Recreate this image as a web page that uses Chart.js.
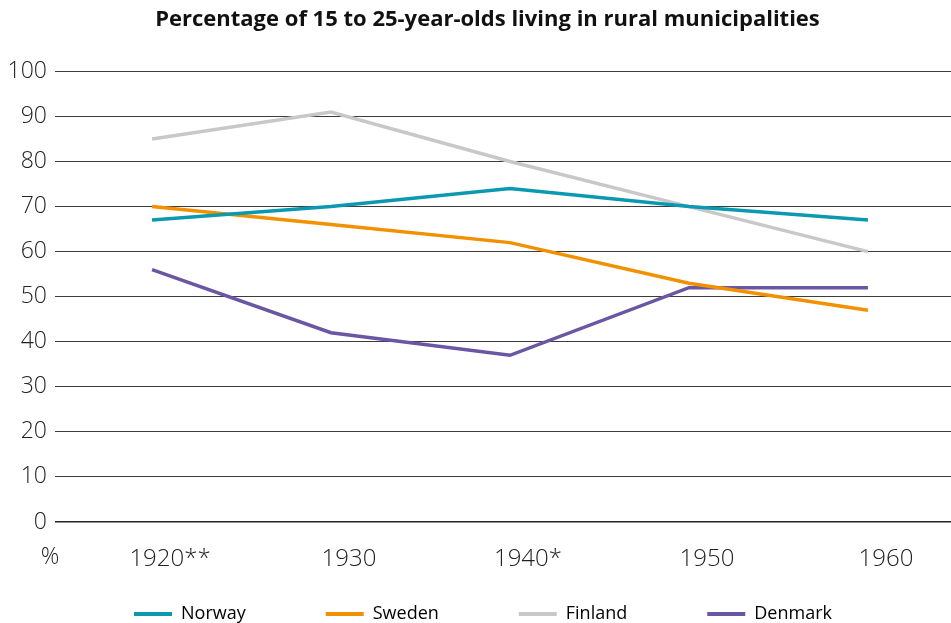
<!DOCTYPE html>
<html>
<head>
<meta charset="utf-8">
<script src="https://cdn.jsdelivr.net/npm/chart.js@4/dist/chart.umd.min.js"></script>
<style>
  html, body { margin: 0; padding: 0; background: #fff; overflow: hidden; }
  #wrap { width: 951px; height: 623px; }
</style>
</head>
<body>
<div id="wrap"><canvas id="c" width="951" height="623"></canvas></div>
<script>
// Census years (asterisks refer to footnotes in the source table)
const categories = ['1920**', '1930', '1940*', '1950', '1960'];

// Share of 15–25-year-olds living in rural municipalities, %
const norway  = [67, 70, 74, 70, 67];
const sweden  = [70, 66, 62, 53, 47];
const finland = [85, 91, 80, 70, 60];
const denmark = [56, 42, 37, 52, 52];

const yTicks = [0, 10, 20, 30, 40, 50, 60, 70, 80, 90, 100];

const toPoints = vals => vals.map((v, i) => ({ x: i, y: v }));

const seriesDefs = [
  { label: 'Norway',  data: norway,  color: '#0b99b0' },
  { label: 'Sweden',  data: sweden,  color: '#f29100' },
  { label: 'Finland', data: finland, color: '#c8c8c8' },
  { label: 'Denmark', data: denmark, color: '#6a56a3' }
];

const FONT = "'Open Sans', 'Noto Sans', sans-serif";
const LEGEND_PAD = 80;
const LEGEND_FONT = 18;

// Small "%" unit marker under the value axis
const unitLabel = {
  id: 'unitLabel',
  afterDraw(chart) {
    const { ctx } = chart;
    ctx.save();
    ctx.font = `300 23px ${FONT}`;
    ctx.fillStyle = '#222';
    ctx.textAlign = 'center';
    ctx.textBaseline = 'middle';
    ctx.fillText('%', 50, chart.chartArea.bottom + 35);
    ctx.restore();
  }
};

// Nudge the title right and place the legend row left of centre near the bottom
const blockPlacement = {
  id: 'blockPlacement',
  afterLayout(chart) {
    const tb = chart.titleBlock;
    tb.left += 12;
    tb.right += 12;

    const lg = chart.legend;
    const startX = 134;
    const centerY = 614;
    lg.left = startX - LEGEND_PAD;
    lg.right = 951;
    lg.width = lg.right - lg.left;
    lg.top = centerY - LEGEND_PAD - LEGEND_FONT / 2;
    lg.bottom = 623;
    lg.height = lg.bottom - lg.top;
  }
};

new Chart(document.getElementById('c'), {
  type: 'line',
  data: {
    datasets: seriesDefs.map(s => ({
      label: s.label,
      data: toPoints(s.data),
      borderColor: s.color,
      backgroundColor: s.color,
      borderWidth: 3.5,
      pointRadius: 0,
      pointHoverRadius: 0,
      tension: 0,
      fill: false
    }))
  },
  options: {
    responsive: false,
    animation: false,
    layout: { padding: 0 },
    plugins: {
      title: {
        display: true,
        text: 'Percentage of 15 to 25-year-olds living in rural municipalities',
        color: '#111',
        font: { family: FONT, size: 22, weight: 'bold' },
        padding: { top: 7, bottom: 38 }
      },
      legend: {
        position: 'bottom',
        align: 'start',
        maxHeight: 30,
        labels: {
          color: '#222',
          font: { family: FONT, size: LEGEND_FONT },
          boxWidth: 38,
          boxHeight: 4,
          padding: LEGEND_PAD,
          generateLabels(chart) {
            return chart.data.datasets.map((d, i) => ({
              text: d.label,
              fillStyle: d.borderColor,
              strokeStyle: d.borderColor,
              lineWidth: 0,
              datasetIndex: i,
              hidden: false
            }));
          }
        }
      },
      tooltip: { enabled: false }
    },
    scales: {
      x: {
        type: 'linear',
        min: -0.542,
        max: 4.464,
        grid: { display: false },
        border: { display: false },
        afterBuildTicks(scale) {
          scale.ticks = categories.map((c, i) => ({ value: i }));
        },
        afterFit(scale) { scale.height = 71; },
        ticks: {
          color: '#222',
          font: { family: FONT, size: 24, weight: 300 },
          padding: 15,
          labelOffset: 18,
          maxRotation: 0,
          callback: v => categories[v]
        }
      },
      y: {
        min: 0,
        max: 100,
        afterBuildTicks(scale) {
          scale.ticks = yTicks.map(v => ({ value: v }));
        },
        afterFit(scale) { scale.width = 55; },
        border: { display: false },
        grid: {
          drawTicks: false,
          color: ctx => ctx.tick && ctx.tick.value === 0 ? '#222' : '#3c3c3c',
          lineWidth: ctx => ctx.tick && ctx.tick.value === 0 ? 1.6 : 1.1
        },
        ticks: {
          color: '#222',
          font: { family: FONT, size: 23, weight: 300 },
          padding: 8
        }
      }
    }
  },
  plugins: [unitLabel, blockPlacement]
});
</script>
</body>
</html>
